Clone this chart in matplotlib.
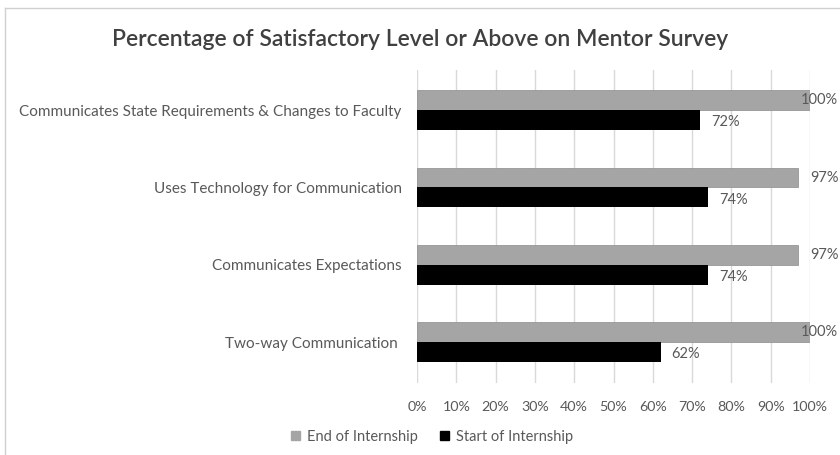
import matplotlib
matplotlib.use("Agg")
import matplotlib.pyplot as plt
from matplotlib.lines import Line2D
from matplotlib.patches import Patch

# survey data, top category first
categories = ["Communicates State Requirements & Changes to Faculty",
              "Uses Technology for Communication",
              "Communicates Expectations",
              "Two-way Communication "]
end_vals = [100, 97, 97, 100]
start_vals = [72, 74, 74, 62]
xticks = [0, 10, 20, 30, 40, 50, 60, 70, 80, 90, 100]

W, H = 840, 455
plt.rcParams['font.family'] = ['Lato', 'DejaVu Sans']
txt = '#595959'

fig = plt.figure(figsize=(W / 100, H / 100), dpi=100)
ax = fig.add_axes([417 / W, 1 - 383 / H, (810 - 417) / W, (383 - 70) / H])

bh = 0.256
ys = list(range(len(categories)))
ax.barh([y - bh / 2 for y in ys], end_vals, height=bh, color='#a5a5a5',
        edgecolor='#8c8c8c', linewidth=0.5, label='End of Internship', zorder=3)
ax.barh([y + bh / 2 for y in ys], start_vals, height=bh, color='black',
        label='Start of Internship', zorder=3)

for y, v in zip(ys, end_vals):
    if v + 2.8 > 99:
        # no room past the plot edge: keep the label inside the figure
        ax.text(107.2, y - bh / 2, f'{v}%', va='center', ha='right',
                fontsize=10.5, color=txt, clip_on=False)
    else:
        ax.text(v + 2.8, y - bh / 2, f'{v}%', va='center', ha='left',
                fontsize=10.5, color=txt, clip_on=False)
for y, v in zip(ys, start_vals):
    ax.text(v + 2.8, y + bh / 2 + 0.03, f'{v}%', va='center', ha='left',
            fontsize=10.5, color=txt, clip_on=False)

ax.set_xlim(0, 100)
ax.set_ylim(3.53, -0.52)
ax.set_xticks(xticks)
ax.set_xticklabels([f'{t}%' for t in xticks], fontsize=10.3, color=txt)
ax.set_yticks(ys)
ax.set_yticklabels(categories, fontsize=11, color=txt)
ax.tick_params(axis='y', length=0, pad=11)
ax.tick_params(axis='x', length=0, pad=13)
ax.grid(axis='x', color='#d9d9d9', linewidth=1, zorder=0)
for s in ax.spines.values():
    s.set_visible(False)

fig.text(420 / W, 1 - 40 / H, 'Percentage of Satisfactory Level or Above on Mentor Survey',
         ha='center', va='center', fontsize=16.5, color='#404040', fontweight='semibold')

handles = [Patch(color='#a5a5a5', label='End of Internship'),
           Patch(color='black', label='Start of Internship')]
fig.legend(handles=handles, loc='center', bbox_to_anchor=(432 / W, 1 - 437 / H),
           ncol=2, frameon=False, fontsize=10.5, labelcolor=txt,
           handlelength=0.6, handleheight=0.6, handletextpad=0.5, columnspacing=1.5)

# chart border
fig.add_artist(Line2D([5 / W, 5 / W], [0, 1 - 8 / H], color='#d0d0d0', linewidth=1))
fig.add_artist(Line2D([5 / W, 1], [1 - 8 / H, 1 - 8 / H], color='#d0d0d0', linewidth=1))

fig.savefig('out.png', dpi=100)
